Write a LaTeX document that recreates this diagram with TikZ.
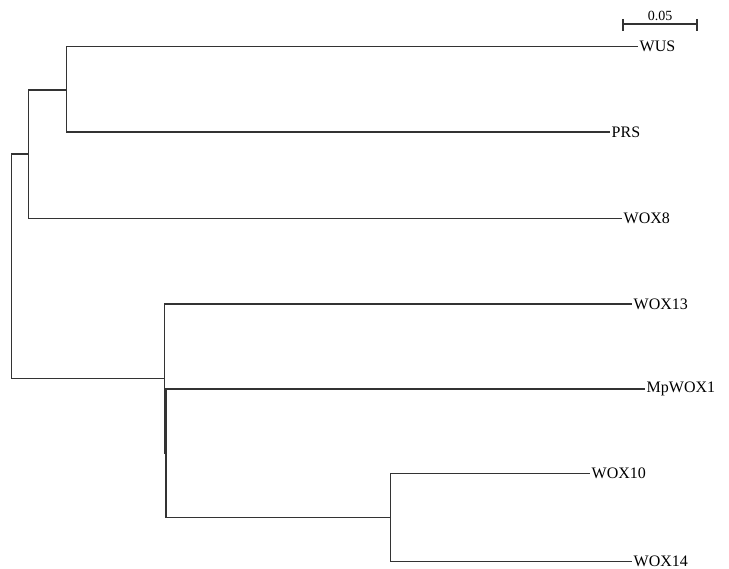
\documentclass[tikz,border=0pt]{standalone}
\usepackage{fontspec}
\setmainfont{Liberation Serif}
\usetikzlibrary{calc}
\begin{document}
\begin{tikzpicture}[x=1pt,y=-1pt,
  branch/.style={draw=black!80,line width=1.3pt},
  leaf/.style={anchor=west,inner sep=1.5pt,font=\fontsize{16}{18}\selectfont,text=black},
  scalelbl/.style={anchor=south,inner sep=1pt,font=\fontsize{14}{16}\selectfont}]
\useasboundingbox (0,0) rectangle (729,569);
% internal nodes
\coordinate (root) at (11.3,378.5);
\coordinate (n1) at (28.7,154);
\coordinate (n2) at (66.7,90);
\coordinate (n3) at (164.7,378.5);
\coordinate (n4) at (166,453);
\coordinate (n5) at (390.3,517.7);
% leaves
\node[leaf] (wus) at (638,46.7) {WUS};
\node[leaf] (prs) at (610,132) {PRS};
\node[leaf] (wox8) at (622,218.7) {WOX8};
\node[leaf] (wox13) at (632,304) {WOX13};
\node[leaf] (mpwox1) at (645,389) {MpWOX1};
\node[leaf] (wox10) at (590,473.7) {WOX10};
\node[leaf] (wox14) at (632,561.7) {WOX14};
% branches
\draw[branch] (root) |- (n1);
\draw[branch] (root) |- (n3);
\draw[branch] (n1) |- (n2);
\draw[branch] (n1) |- (wox8.west);
\draw[branch] (n2) |- (wus.west);
\draw[branch] (n2) |- (prs.west);
\draw[branch] (n3) |- (wox13.west);
\draw[branch] (n3) |- (n4);
\draw[branch] (n4) |- (mpwox1.west);
\draw[branch] (n4) |- (n5);
\draw[branch] (n5) |- (wox10.west);
\draw[branch] (n5) |- (wox14.west);
% scale bar
\coordinate (sbl) at (623,24);
\coordinate (sbr) at (697,24);
\draw[branch,line width=1.2pt] (sbl) -- (sbr);
\draw[branch,line width=1.2pt] ($(sbl)+(0,-5)$) -- ($(sbl)+(0,7)$);
\draw[branch,line width=1.2pt] ($(sbr)+(0,-5)$) -- ($(sbr)+(0,7)$);
\node[scalelbl] (sb) at (660,22) {0.05};
\end{tikzpicture}
\end{document}
